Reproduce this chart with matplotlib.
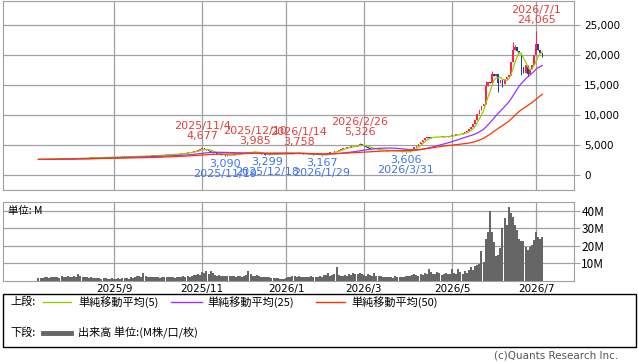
import matplotlib
matplotlib.use('Agg')
import matplotlib.pyplot as plt
from matplotlib.patches import Rectangle
from matplotlib.lines import Line2D
import numpy as np
import pandas as pd

plt.rcParams['font.family'] = ['DejaVu Sans', 'Noto Sans CJK JP']

# 東証の休場日（期間内）
jp_holidays = ['2025-07-21', '2025-08-11', '2025-09-15', '2025-09-23', '2025-10-13',
               '2025-11-03', '2025-11-24', '2025-12-31', '2026-01-01', '2026-01-02',
               '2026-01-12', '2026-02-11', '2026-02-23', '2026-03-20', '2026-04-29',
               '2026-05-04', '2026-05-05', '2026-05-06']

# 終値（月ごと）
close = [
    2600, 2590, 2620, 2610, 2640, 2630, 2650, 2620, 2660, 2700, 2680, 2690, 2720, 2700, 2740, 2730,
    2760, 2740, 2780, 2800, 2790, 2820, 2850, 2830, 2870, 2860, 2880, 2900, 2890, 2920, 2910, 2940, 2930, 2960, 2950, 2980,
    2990, 3010, 3000, 3030, 3050, 3040, 3060, 3080, 3070, 3100, 3120, 3110, 3140, 3130, 3160, 3180, 3170, 3200, 3220, 3210,
    3230, 3260, 3300, 3350, 3400, 3380, 3420, 3450, 3430, 3480, 3500, 3550, 3600, 3650, 3700, 3750, 3800, 3850, 3950, 4050, 4150, 4250,
    4450, 4300, 4150, 4000, 3850, 3700, 3600, 3500, 3450, 3350, 3300, 3200, 3250, 3300, 3400, 3450, 3500, 3550,
    3600, 3650, 3700, 3750, 3800, 3820, 3850, 3880, 3750, 3650, 3550, 3450, 3400, 3380, 3420, 3450, 3480, 3500, 3480, 3500, 3520, 3500,
    3520, 3550, 3580, 3600, 3620, 3650, 3680, 3600, 3550, 3520, 3480, 3450, 3420, 3400, 3380, 3350, 3330, 3300, 3380,
    3450, 3600, 3750, 3850, 3950, 4050, 4200, 4350, 4450, 4550, 4650, 4700, 4750, 4800, 4850, 4950, 5150, 4950,
    4800, 4650, 4500, 4400, 4350, 4300, 4250, 4200, 4150, 4100, 4100, 4050, 4080, 4050, 4000, 4020, 3980, 3950, 3900, 3850, 3750,
    3900, 4100, 4300, 4600, 4900, 5200, 5500, 5800, 6100, 6300, 6200, 6350, 6300, 6400, 6350, 6300, 6450, 6400, 6350, 6500, 6450,
    6600, 6700, 6800, 6750, 6900, 7000, 7100, 7300, 7600, 8000, 8500, 9200, 10200, 10800, 11500, 11800, 14800, 15500,
    15300, 16800, 16500, 16900, 15400, 15900, 15200, 16000, 16300, 16600, 18900, 20800, 21300, 20700, 20400, 18000, 17000, 18300, 16900, 17600, 18300, 20000,
    21800, 20800, 20300, 19600,
]

# 出来高（百万）
volume = [
    1.5, 1.8, 1.6, 2.0, 2.2, 1.7, 2.5, 2.0, 2.4, 2.2, 1.9, 2.6, 2.3, 2.0, 2.8, 2.4,
    2.2, 3.0, 2.5, 4.0, 2.6, 2.2, 2.0, 2.4, 1.8, 2.1, 1.6, 1.9, 1.5, 1.7, 1.4, 1.6, 1.5, 1.3, 1.4, 1.5,
    1.4, 1.3, 1.5, 1.2, 1.6, 1.8, 1.5, 1.4, 2.2, 1.9, 2.5, 2.8, 3.0, 2.4, 4.4, 2.6, 2.0, 2.3, 2.1, 2.4,
    2.0, 2.2, 1.9, 2.4, 2.1, 2.3, 2.0, 2.5, 2.2, 1.9, 2.1, 2.4, 2.0, 2.6, 2.3, 2.8, 2.5, 3.0, 3.2, 3.6, 4.0, 3.4,
    5.0, 4.6, 5.4, 4.2, 5.6, 4.8, 3.5, 3.0, 3.2, 2.8, 3.1, 2.9, 2.6, 2.8, 3.0, 2.7, 2.5, 2.9,
    2.6, 2.4, 2.8, 3.5, 5.9, 4.0, 3.0, 2.8, 3.2, 2.7, 2.5, 2.2, 2.4, 2.0, 2.3, 1.9, 1.8, 1.6, 1.5, 1.4, 1.3, 1.2,
    1.6, 2.2, 2.0, 2.6, 3.0, 2.4, 2.8, 2.2, 2.5, 2.0, 2.3, 2.1, 2.6, 2.4, 2.2, 2.5, 2.8, 2.3, 3.2,
    3.5, 4.5, 3.0, 3.2, 3.8, 8.0, 3.5, 3.0, 2.8, 3.4, 3.0, 4.0, 3.6, 4.5, 3.8, 4.2, 4.6, 4.0,
    3.5, 3.0, 3.8, 3.2, 2.8, 4.5, 3.0, 2.6, 2.8, 2.4, 2.2, 2.5, 2.0, 2.3, 1.8, 2.6, 2.2, 2.0, 2.4, 2.1, 2.8,
    2.6, 3.0, 3.5, 3.8, 3.4, 3.0, 4.0, 3.6, 4.5, 4.0, 7.0, 5.0, 3.8, 4.2, 5.0, 4.4, 3.6, 4.0, 4.8, 3.8, 4.2,
    7.0, 4.5, 4.0, 7.0, 5.0, 4.0, 5.5, 4.5, 6.0, 8.0, 6.5, 8.5, 9.0, 9.5, 17.0, 11.0, 24.0, 28.0,
    40.0, 28.0, 22.0, 14.0, 15.0, 18.5, 30.0, 36.0, 32.0, 42.0, 38.5, 36.5, 32.0, 29.0, 24.0, 22.5, 22.5, 19.5, 17.6, 19.5, 20.4, 23.0,
    28.0, 25.0, 24.0, 25.0,
]

# 注記される高値・安値
high_marks = {'2025-11-04': 4677, '2025-12-10': 3985, '2026-01-14': 3758,
              '2026-02-26': 5326, '2026-07-01': 24065}
low_marks = {'2025-11-19': 3090, '2025-12-18': 3299, '2026-01-29': 3167, '2026-03-31': 3606}
# その他のヒゲ
extra_highs = {'2026-06-02': 17300, '2026-06-16': 22200, '2026-06-17': 21700, '2026-05-28': 15600}
extra_lows = {'2026-06-05': 13900, '2026-06-22': 16700, '2026-06-25': 16500, '2026-06-09': 14600}

month_ticks = ['2025-09', '2025-11', '2026-01', '2026-03', '2026-05', '2026-07']
month_labels = ['2025/9', '2025/11', '2026/1', '2026/3', '2026/5', '2026/7']

# ---- データ整形 ----
dates = pd.bdate_range('2025-07-09', '2026-07-06', freq='C', holidays=jp_holidays)
df = pd.DataFrame({'close': close, 'vol': volume}, index=dates)
df['open'] = df['close'].shift(1).fillna(df['close'].iloc[0])
df['high'] = df[['open', 'close']].max(axis=1)
df['low'] = df[['open', 'close']].min(axis=1)
for d, v in {**high_marks, **extra_highs}.items():
    df.loc[d, 'high'] = max(df.loc[d, 'high'], v)
for d, v in {**low_marks, **extra_lows}.items():
    df.loc[d, 'low'] = min(df.loc[d, 'low'], v)

x = np.arange(len(df))
sma5 = df['close'].rolling(5, min_periods=1).mean()
sma25 = df['close'].rolling(25, min_periods=1).mean()
sma50 = df['close'].rolling(50, min_periods=1).mean()

month_pos = [int(np.searchsorted(df.index, pd.Timestamp(m + '-01'))) for m in month_ticks]

GRID = '#a0a0a0'
UP = '#ff1f4b'
DOWN = '#1c3f9c'

fig = plt.figure(figsize=(6.38, 3.62), dpi=100)
W, H = 638, 362
ax = fig.add_axes([3 / W, 1 - 190 / H, 571 / W, 189.5 / H])
axv = fig.add_axes([3 / W, 1 - 281 / H, 571 / W, 79.3 / H])

xlim = (-16.9, 255.1)

# ---- 上段：ローソク足 ----
up = df['close'] >= df['open']
body_lo = df[['open', 'close']].min(axis=1)
body_h = (df['close'] - df['open']).abs().clip(lower=60)
cols = np.where(up, UP, DOWN)
ax.vlines(x, df['low'], df['high'], colors=cols, lw=0.7, zorder=3)
ax.bar(x, body_h, bottom=body_lo, width=0.75, color=cols, lw=0, zorder=3)
ax.plot(x, sma5, color='#99cc00', lw=0.9, zorder=4)
ax.plot(x, sma25, color='#9933ff', lw=0.9, zorder=4)
ax.plot(x, sma50, color='#ff3300', lw=0.9, zorder=4)

for d, v in high_marks.items():
    i = df.index.get_loc(pd.Timestamp(d))
    t = pd.Timestamp(d)
    ax.annotate(f'{t.year}/{t.month}/{t.day}\n{v:,}', (i, v), xytext=(0, 4),
                textcoords='offset points', ha='center', va='bottom',
                color='#e0403c', fontsize=8, linespacing=1.0, zorder=5)
for d, v in low_marks.items():
    i = df.index.get_loc(pd.Timestamp(d))
    t = pd.Timestamp(d)
    ax.annotate(f'{v:,}\n{t.year}/{t.month}/{t.day}', (i, v), xytext=(0, -1.5),
                textcoords='offset points', ha='center', va='top',
                color='#3f74ee', fontsize=8, linespacing=1.0, zorder=5)

ax.set_xlim(xlim)
ax.set_ylim(-2500, 29083)
ax.set_yticks(range(0, 25001, 5000))
ax.set_yticklabels([f'{v:,}' for v in range(0, 25001, 5000)])
ax.set_xticks(month_pos)
ax.set_xticklabels([])
ax.grid(True, color=GRID, lw=0.9)
ax.set_axisbelow(True)
ax.yaxis.tick_right()
ax.tick_params(axis='y', length=4.3, color=GRID, labelsize=7.5, pad=3)
ax.tick_params(axis='x', length=0)
for s in ax.spines.values():
    s.set_color(GRID)

# ---- 下段：出来高 ----
axv.bar(x, df['vol'], width=0.95, color='#666666', lw=0, zorder=3)
axv.set_xlim(xlim)
axv.set_ylim(0, 45)
axv.set_yticks([10, 20, 30, 40])
axv.set_yticklabels(['10M', '20M', '30M', '40M'], family=['Noto Sans CJK JP'], fontsize=8.5)
axv.set_xticks(month_pos)
axv.set_xticklabels(month_labels, fontsize=7.5)
axv.grid(True, color=GRID, lw=0.9)
axv.set_axisbelow(True)
axv.yaxis.tick_right()
axv.tick_params(axis='y', length=4.3, color=GRID, pad=1)
axv.tick_params(axis='x', length=0, pad=2)
for s in axv.spines.values():
    s.set_color(GRID)
axv.text(5 / 571, 1 - 9 / 79.3, '単位: M', transform=axv.transAxes, ha='left', va='center',
         fontsize=7.5, family=['Noto Sans CJK JP'], zorder=5)

# ---- 凡例 ----
fig.add_artist(Rectangle((3 / W, 1 - 347 / H), 633 / W, 53 / H, transform=fig.transFigure,
                         fill=False, ec='black', lw=1))
jp = ['Noto Sans CJK JP']
y1 = 1 - 302 / H
y2 = 1 - 333 / H
fig.text(10 / W, y1, '上段:', fontsize=8, family=jp, va='center')
legend_items = [(43, 71, 78, '#99cc00', '単純移動平均(5)'),
                (171, 202, 207, '#9933ff', '単純移動平均(25)'),
                (316, 345, 351, '#ff3300', '単純移動平均(50)')]
for x0, x1, xt, c, label in legend_items:
    fig.add_artist(Line2D([x0 / W, x1 / W], [y1, y1], transform=fig.transFigure, color=c, lw=1))
    fig.text(xt / W, y1, label, fontsize=8, family=jp, va='center')
fig.text(10 / W, y2, '下段:', fontsize=8, family=jp, va='center')
fig.add_artist(Line2D([43 / W, 71 / W], [y2, y2], transform=fig.transFigure, color='#666666', lw=3.5))
fig.text(78 / W, y2, '出来高 単位:(M株/口/枚)', fontsize=8, family=jp, va='center')

fig.text(618 / W, 1 - 356 / H, '(c)Quants Research Inc.', ha='right', va='center',
         fontsize=7.5, color='#555555')

fig.savefig('out.png', dpi=100)
